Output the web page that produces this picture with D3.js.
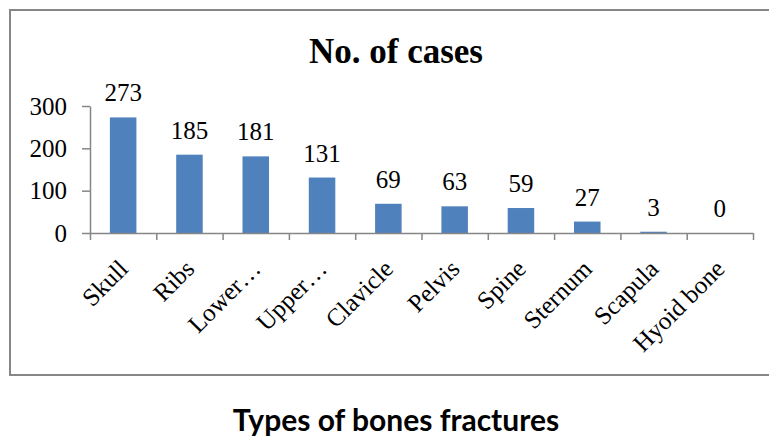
<!DOCTYPE html>
<html lang="en">

<head>
  <meta charset="UTF-8">
  <title>No. of cases</title>
  <script src="https://d3js.org/d3.v7.min.js"></script>
  <style>
    body {
      margin: 0;
      background-color: #fff;
    }

    svg {
      display: block;
    }
  </style>
</head>

<body>
  <svg></svg>
  <script>
    const categories = ["Skull", "Ribs", "Lower…", "Upper…", "Clavicle", "Pelvis", "Spine", "Sternum", "Scapula", "Hyoid bone"];
    const cases = [273, 185, 181, 131, 69, 63, 59, 27, 3, 0];
    const yTicks = [0, 100, 200, 300];

    const width = 769;
    const height = 436;
    const serif = "'Liberation Serif', 'Times New Roman', serif";
    const axisColor = "#868686";

    const stage = d3.select("svg")
      .attr("width", width)
      .attr("height", height);

    // chart frame (right edge runs off the picture)
    stage.append("rect")
      .attr("x", 10)
      .attr("y", 10)
      .attr("width", 780)
      .attr("height", 365)
      .attr("fill", "none")
      .attr("stroke", axisColor)
      .attr("stroke-width", 2);

    const x = d3.scaleBand()
      .domain(categories)
      .range([90, 753])
      .paddingInner(0.6)
      .paddingOuter(0.3);

    const y = d3.scaleLinear()
      .domain([0, 300])
      .range([233, 106]);

    // bars
    stage.selectAll("rect.bar")
      .data(cases)
      .join("rect")
      .attr("class", "bar")
      .attr("x", (d, i) => x(categories[i]))
      .attr("y", d => y(d))
      .attr("width", x.bandwidth())
      .attr("height", d => y(0) - y(d))
      .attr("fill", "#4F81BD");

    // y axis
    const yAxis = stage.append("g")
      .attr("transform", "translate(90,0)")
      .call(d3.axisLeft(y).tickValues(yTicks).tickSize(8).tickSizeOuter(0).tickPadding(15));
    yAxis.select(".domain").attr("stroke", axisColor).attr("stroke-width", 1.5);
    yAxis.selectAll(".tick line").attr("stroke", axisColor).attr("stroke-width", 1.5);
    yAxis.selectAll(".tick text")
      .attr("font-family", serif)
      .attr("font-size", 25)
      .attr("fill", "#000");

    // x axis: ticks sit on the category boundaries
    const bounds = d3.scaleLinear().domain([0, categories.length]).range([90, 753]);
    const xAxis = stage.append("g")
      .attr("transform", `translate(0,${y(0)})`)
      .call(d3.axisBottom(bounds).tickValues(d3.range(categories.length + 1)).tickSize(7).tickSizeOuter(0).tickFormat(""));
    xAxis.select(".domain").attr("stroke", axisColor).attr("stroke-width", 1.5);
    xAxis.selectAll(".tick line").attr("stroke", axisColor).attr("stroke-width", 1.5);

    // category labels, rotated
    stage.selectAll("text.cat")
      .data(categories)
      .join("text")
      .attr("class", "cat")
      .attr("transform", d => `translate(${x(d) + x.bandwidth() / 2 - 6},${258}) rotate(-45)`)
      .attr("text-anchor", "end")
      .attr("dy", "0.7em")
      .attr("font-family", serif)
      .attr("font-size", 25)
      .text(d => d);

    // value labels
    stage.selectAll("text.val")
      .data(cases)
      .join("text")
      .attr("class", "val")
      .attr("x", (d, i) => x(categories[i]) + x.bandwidth() / 2)
      .attr("y", d => y(d) - 16)
      .attr("text-anchor", "middle")
      .attr("font-family", serif)
      .attr("font-size", 25)
      .text(d => d);

    // chart title
    stage.append("text")
      .attr("x", 396)
      .attr("y", 63)
      .attr("text-anchor", "middle")
      .attr("font-family", serif)
      .attr("font-weight", "bold")
      .attr("font-size", 35)
      .text("No. of cases");

    // caption under the frame
    stage.append("text")
      .attr("x", 396)
      .attr("y", 431)
      .attr("text-anchor", "middle")
      .attr("font-family", "Lato, 'Open Sans', sans-serif")
      .attr("font-weight", "bold")
      .attr("font-size", 30)
      .text("Types of bones fractures");
  </script>
</body>

</html>
